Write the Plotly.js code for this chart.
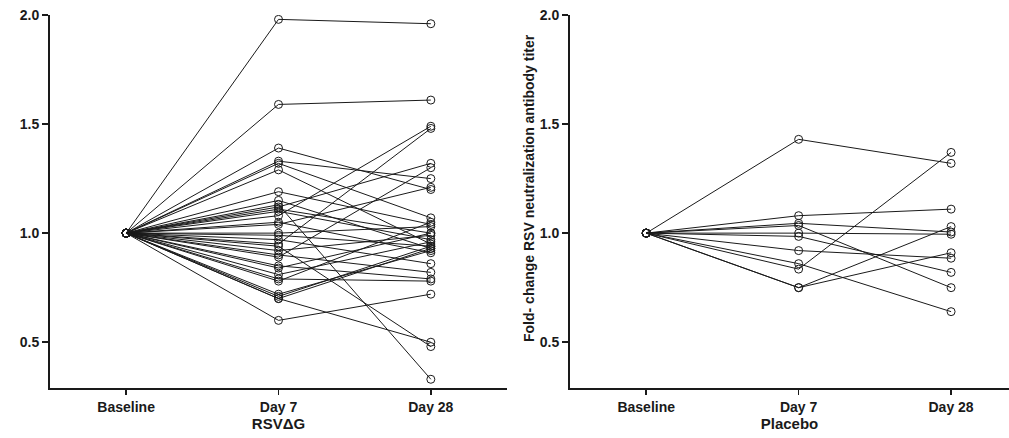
<!DOCTYPE html>
<html>
<head>
<meta charset="utf-8">
<script src="https://cdn.plot.ly/plotly-3.0.1.min.js"></script>
<style>html,body{margin:0;padding:0;background:#fff;}#chart{width:1009px;height:438px;}</style>
</head>
<body>
<div id="chart"></div>
<script>
// Time points (x categories)
const timepoints = ['Baseline', 'Day 7', 'Day 28'];
// Fold-change at baseline (all subjects normalised to 1.0)
const baselineFold = 1.0;

// RSVΔG group: fold-change per subject at Day 7 and Day 28
const rsvDay7 = [1.98, 1.59, 1.39, 1.33, 1.32, 1.29, 1.19, 1.15, 1.13, 1.12, 1.11,
                 1.10, 1.08, 1.05, 1.04, 1.00, 0.99, 0.97, 0.95, 0.94, 0.92, 0.90,
                 0.89, 0.85, 0.84, 0.81, 0.79, 0.78, 0.72, 0.71, 0.70, 0.70, 0.60];
const rsvDay28 = [1.96, 1.61, 1.20, 1.25, 1.07, 0.95, 1.04, 0.93, 0.33, 1.32, 1.00,
                  0.97, 1.49, 0.91, 1.21, 1.03, 0.94, 0.86, 1.48, 0.48, 0.99, 0.82,
                  1.30, 0.79, 1.00, 0.96, 0.78, 1.05, 0.92, 0.94, 0.50, 0.93, 0.72];

// Placebo group
const plaDay7 = [1.43, 1.08, 1.045, 1.035, 1.00, 0.985, 0.92, 0.86, 0.835, 0.75, 0.75];
const plaDay28 = [1.32, 1.11, 1.005, 0.75, 0.995, 0.82, 0.885, 0.64, 1.37, 1.03, 0.91];

const groupTitles = ['RSV\u0394G', 'Placebo'];
const yTitle = 'Fold- change RSV neutralization antibody titer';
const yTickVals = [0.5, 1.0, 1.5, 2.0];

const ink = '#1a1a1a';
const fontFam = '"Liberation Sans", Arial, Helvetica, sans-serif';

function subjectTraces(d7, d28, xa, ya) {
  return d7.map((v, i) => ({
    type: 'scatter',
    mode: 'lines+markers',
    x: timepoints,
    y: [baselineFold, v, d28[i]],
    xaxis: xa, yaxis: ya,
    line: {color: ink, width: 1},
    marker: {symbol: 'circle-open', size: 8, color: ink, line: {width: 1, color: ink}},
    hoverinfo: 'x+y',
    showlegend: false
  }));
}

const data = [].concat(
  subjectTraces(rsvDay7, rsvDay28, 'x', 'y'),
  subjectTraces(plaDay7, plaDay28, 'x2', 'y2')
);

const W = 1009, H = 438;
const yDomain = [1 - 388 / H, 1 - 15 / H];

function xAxis(domain, range, title) {
  return {
    domain: domain,
    type: 'category',
    range: range,
    showline: true, linecolor: ink, linewidth: 2,
    ticks: 'outside', ticklen: 5, tickwidth: 1.5, tickcolor: ink,
    showgrid: false, zeroline: false,
    tickfont: {family: fontFam, size: 14, color: ink, weight: 'bold'},
    title: {text: title, font: {family: fontFam, size: 15, color: ink, weight: 'bold'}, standoff: 4},
    fixedrange: true
  };
}
function yAxis(domain, anchor) {
  return {
    domain: domain,
    anchor: anchor,
    range: [0.29, 2.0],
    tickvals: yTickVals,
    tickformat: '.1f',
    showline: true, linecolor: ink, linewidth: 2,
    ticks: 'outside', ticklen: 6, tickwidth: 1.5, tickcolor: ink,
    showgrid: false, zeroline: false,
    tickfont: {family: fontFam, size: 14, color: ink, weight: 'bold'},
    fixedrange: true
  };
}

const layout = {
  width: W, height: H,
  margin: {l: 0, r: 0, t: 0, b: 0},
  paper_bgcolor: '#fff', plot_bgcolor: '#fff',
  showlegend: false,
  xaxis: Object.assign(xAxis([50 / W, 507 / W], [-0.5, 2.5], groupTitles[0]), {anchor: 'y'}),
  yaxis: yAxis(yDomain, 'x'),
  xaxis2: Object.assign(xAxis([570 / W, 1], [-0.5, 2.38], groupTitles[1]), {anchor: 'y2'}),
  yaxis2: yAxis(yDomain, 'x2'),
  annotations: [{
    text: yTitle,
    textangle: -90,
    xref: 'paper', yref: 'paper',
    x: 529 / W, y: 1 - 188 / H,
    xanchor: 'center', yanchor: 'middle',
    showarrow: false,
    font: {family: fontFam, size: 14, color: ink, weight: 'bold'}
  }]
};

Plotly.newPlot('chart', data, layout, {displayModeBar: false, staticPlot: true});
</script>
</body>
</html>
